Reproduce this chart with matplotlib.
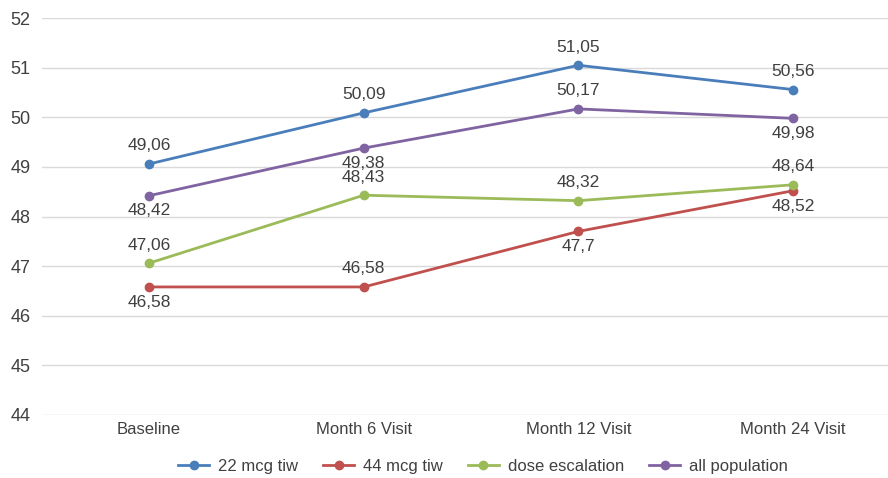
import matplotlib.pyplot as plt

plt.rcParams['font.family'] = ['Liberation Sans', 'DejaVu Sans']

# visit categories and mean values per treatment group
visits = ["Baseline", "Month 6 Visit", "Month 12 Visit", "Month 24 Visit"]
mcg22 = [49.06, 50.09, 51.05, 50.56]
mcg44 = [46.58, 46.58, 47.7, 48.52]
dose_esc = [47.06, 48.43, 48.32, 48.64]
all_pop = [48.42, 49.38, 50.17, 49.98]

# label placement per point: +1 above, -1 below
pos22 = [1, 1, 1, 1]
pos44 = [-1, 1, -1, -1]
pos_esc = [1, 1, 1, 1]
pos_all = [-1, -1, 1, -1]

series = [
    ("22 mcg tiw", mcg22, pos22, "#4a7ebb"),
    ("44 mcg tiw", mcg44, pos44, "#c0504d"),
    ("dose escalation", dose_esc, pos_esc, "#9bbb59"),
    ("all population", all_pop, pos_all, "#8064a2"),
]

fig = plt.figure(figsize=(8.88, 4.78), dpi=100)
ax = fig.add_axes([0.047, 0.132, 0.967, 0.83])

x = list(range(len(visits)))
for name, vals, pos, col in series:
    ax.plot(x, vals, color=col, lw=2.0, marker="o", ms=6, label=name)
    for xi, v, p in zip(x, vals, pos):
        txt = f"{v:g}".replace(".", ",")
        dy = 13 if p > 0 else -11
        ax.annotate(txt, (xi, v), xytext=(0, dy), textcoords="offset points",
                    ha="center", va="center", fontsize=12.5, color="#404040")

ax.set_xlim(-0.5, 3.5)
ax.set_ylim(44, 52)
ax.set_yticks(range(44, 53))
ax.set_xticks(x)
ax.set_xticklabels(visits)
ax.grid(axis="y", color="#d9d9d9", lw=1)
ax.set_axisbelow(True)
for s in ax.spines.values():
    s.set_visible(False)
ax.tick_params(axis="both", length=0, colors="#404040")
ax.tick_params(axis="y", labelsize=13, pad=8)
ax.tick_params(axis="x", labelsize=12, pad=5)

fig.legend(loc="center", bbox_to_anchor=(0.544, 0.024), ncol=4, frameon=False,
           fontsize=12, handlelength=1.85, handletextpad=0.55, columnspacing=1.5,
           labelcolor="#404040")

fig.savefig("out.png", dpi=100)
